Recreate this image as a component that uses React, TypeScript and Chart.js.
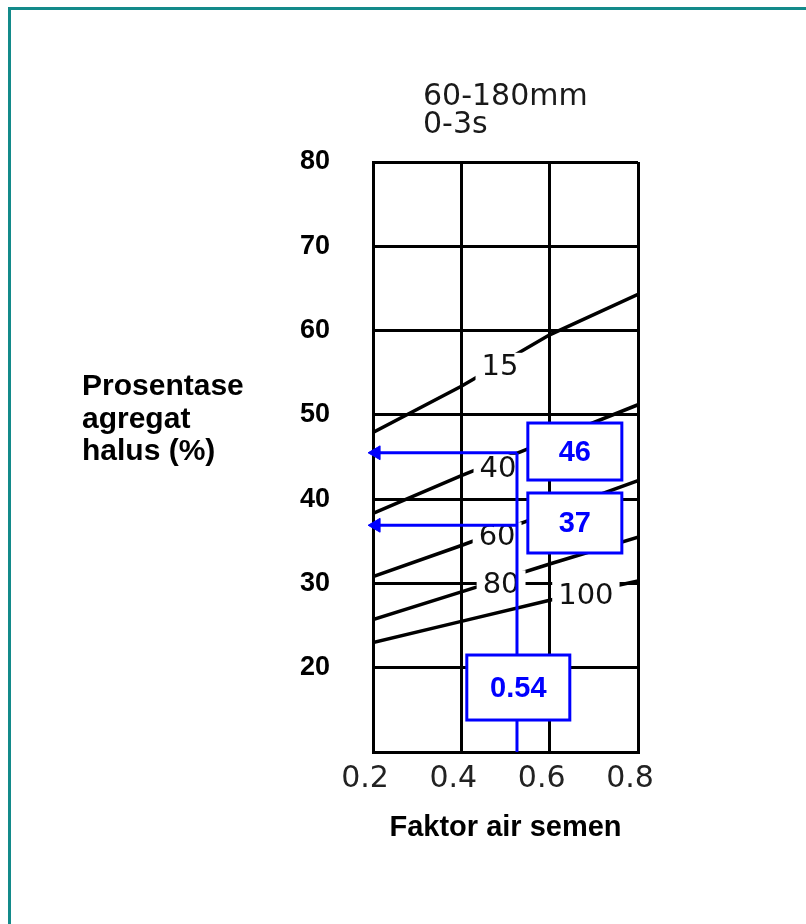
import React, { useEffect, useRef } from 'react';
import { Chart, registerables } from 'chart.js';

Chart.register(...registerables);

// ---- data ----
const xValues = [0.2, 0.4, 0.6, 0.8];
const xTickLabels = ['0.2', '0.4', '0.6', '0.8'];
const yTickValues = [10, 20, 30, 40, 50, 60, 70, 80];
const yTickLabels = ['', '20', '30', '40', '50', '60', '70', '80'];

const curveNames = ['15', '40', '60', '80', '100'];
const curve15 = [47.9, 53.4, 59.5, 64.3];
const curve40 = [38.3, 42.8, 47.0, 51.2];
const curve60 = [30.8, 34.5, 38.4, 42.2];
const curve80 = [25.7, 29.0, 32.3, 35.5];
const curve100 = [23.0, 25.5, 28.0, 30.3];

// where the curve names sit (data units)
const curveLabelX = [0.4875, 0.483, 0.481, 0.49, 0.682];
const curveLabelY = [55.7, 43.6, 35.6, 29.9, 28.6];

// reading construction
const readX = 0.526;
const readXLabel = '0.54';
const readY = [45.5, 36.9];
const readYLabels = ['46', '37'];
const arrowTipX = 0.207;

// annotation boxes (data units)
const readYBoxX = 0.657;
const readYBoxY = [45.65, 37.17];
const readXBoxY = 17.65;

const titleLines = ['60-180mm', '0-3s'];
const yTitleLines = ['Prosentase', 'agregat', 'halus (%)'];
const xTitle = 'Faktor air semen';

const BLUE = '#0000ff';

const curves = [curve15, curve40, curve60, curve80, curve100];

const annotPlugin = {
  id: 'annot',
  afterDatasetDraw(chart: any, args: any) {
    if (args.index !== 0) return;
    const ctx = chart.ctx;
    const xs = chart.scales.x;
    const ys = chart.scales.y;
    ctx.save();
    ctx.font = '29px "DejaVu Sans"';
    ctx.textAlign = 'center';
    ctx.textBaseline = 'middle';
    curveNames.forEach((name, i) => {
      const px = xs.getPixelForValue(curveLabelX[i]);
      const py = ys.getPixelForValue(curveLabelY[i]);
      const w = ctx.measureText(name).width + 12;
      ctx.fillStyle = '#ffffff';
      ctx.fillRect(px - w / 2, py - 14, w, 28);
      ctx.fillStyle = '#111111';
      ctx.fillText(name, px, py + 1);
    });
    ctx.restore();
  },
  afterDatasetsDraw(chart: any) {
    const ctx = chart.ctx;
    const xs = chart.scales.x;
    const ys = chart.scales.y;
    ctx.save();
    const box = (cx: number, cy: number, w: number, h: number, text: string) => {
      const px = xs.getPixelForValue(cx);
      const py = ys.getPixelForValue(cy);
      ctx.fillStyle = '#ffffff';
      ctx.fillRect(px - w / 2, py - h / 2, w, h);
      ctx.strokeStyle = BLUE;
      ctx.lineWidth = 3;
      ctx.strokeRect(px - w / 2, py - h / 2, w, h);
      ctx.fillStyle = BLUE;
      ctx.font = 'bold 29px "Liberation Sans"';
      ctx.textAlign = 'center';
      ctx.textBaseline = 'middle';
      ctx.fillText(text, px, py + 1);
    };
    readYLabels.forEach((t, i) => box(readYBoxX, readYBoxY[i], 94, i === 0 ? 57 : 60, t));
    box(readX + 0.003, readXBoxY, 103, 65, readXLabel);
    ctx.restore();
  },
  afterDraw(chart: any) {
    const ctx = chart.ctx;
    const a = chart.chartArea;
    ctx.save();
    ctx.fillStyle = '#1a1a1a';
    ctx.font = '30px "DejaVu Sans"';
    ctx.textAlign = 'left';
    ctx.textBaseline = 'alphabetic';
    ctx.fillText(titleLines[0], a.left + 50, a.top - 57);
    ctx.fillText(titleLines[1], a.left + 50, a.top - 29);

    ctx.fillStyle = '#000000';
    ctx.font = 'bold 30px "Liberation Sans"';
    yTitleLines.forEach((t, i) => {
      ctx.fillText(t, 82, 395 + i * 32.5);
    });
    ctx.restore();
  },
};

export default function App() {
  const ref = useRef<HTMLCanvasElement | null>(null);

  useEffect(() => {
    if (!ref.current) return;
    const curveSets = curves.map((vals, i) => ({
      label: curveNames[i],
      data: xValues.map((x, j) => ({ x, y: vals[j] })),
      borderColor: '#000000',
      borderWidth: 3.5,
      pointRadius: 0,
      tension: 0,
      order: 1,
    }));
    const blueSets = [
      {
        label: 'read-x',
        data: [
          { x: readX, y: 10 },
          { x: readX, y: readY[0] },
        ],
        borderColor: BLUE,
        borderWidth: 3,
        pointRadius: 0,
        order: 0,
        clip: false,
      },
      ...readY.map((yv, i) => ({
        label: 'read-y' + i,
        data: [
          { x: readX, y: yv },
          { x: arrowTipX, y: yv },
        ],
        borderColor: BLUE,
        borderWidth: 3,
        pointRadius: [0, 8],
        pointStyle: 'triangle',
        pointRotation: -90,
        pointBackgroundColor: BLUE,
        pointBorderColor: BLUE,
        pointBorderWidth: 1,
        order: 0,
        clip: false,
      })),
    ];

    const chart = new Chart(ref.current, {
      type: 'line',
      data: { datasets: [...curveSets, ...blueSets] as any },
      options: {
        responsive: false,
        animation: false,
        events: [],
        layout: { padding: { left: 0, top: 162, right: 168, bottom: 0 } },
        plugins: {
          legend: { display: false },
          tooltip: { enabled: false },
          title: { display: false },
        },
        scales: {
          x: {
            type: 'linear',
            min: 0.2,
            max: 0.8,
            afterBuildTicks: (s: any) => {
              s.ticks = xValues.map((v) => ({ value: v }));
            },
            afterFit: (s: any) => {
              s.height = 172;
            },
            grid: { color: '#000000', lineWidth: 3, drawTicks: false },
            border: { display: true, color: '#000000', width: 3 },
            ticks: {
              padding: 9,
              labelOffset: -8,
              color: '#222222',
              font: { family: 'DejaVu Sans', size: 30 },
              callback: (_v: any, i: number) => xTickLabels[i],
            },
            title: {
              display: true,
              text: xTitle,
              color: '#000000',
              font: { family: 'Liberation Sans', size: 29, weight: 'bold' },
              padding: { top: 0, bottom: 79 },
            },
          },
          y: {
            type: 'linear',
            min: 10,
            max: 80,
            afterBuildTicks: (s: any) => {
              s.ticks = yTickValues.map((v) => ({ value: v }));
            },
            afterFit: (s: any) => {
              s.width = 373;
            },
            grid: { color: '#000000', lineWidth: 3, drawTicks: false },
            border: { display: true, color: '#000000', width: 3 },
            ticks: {
              padding: 43,
              color: '#000000',
              font: { family: 'Liberation Sans', size: 27, weight: 'bold' },
              callback: (_v: any, i: number) => yTickLabels[i],
            },
          },
        },
      } as any,
      plugins: [annotPlugin],
    });
    return () => chart.destroy();
  }, []);

  return (
    <>
      <div
        style={{
          position: 'fixed',
          left: 8,
          top: 7,
          width: 1000,
          height: 1100,
          borderTop: '3px solid #138a8a',
          borderLeft: '3px solid #138a8a',
          boxSizing: 'border-box',
          pointerEvents: 'none',
        }}
      />
      <canvas
        ref={ref}
        width={806}
        height={924}
        style={{ position: 'fixed', left: 0, top: 0, width: 806, height: 924 }}
      />
    </>
  );
}
